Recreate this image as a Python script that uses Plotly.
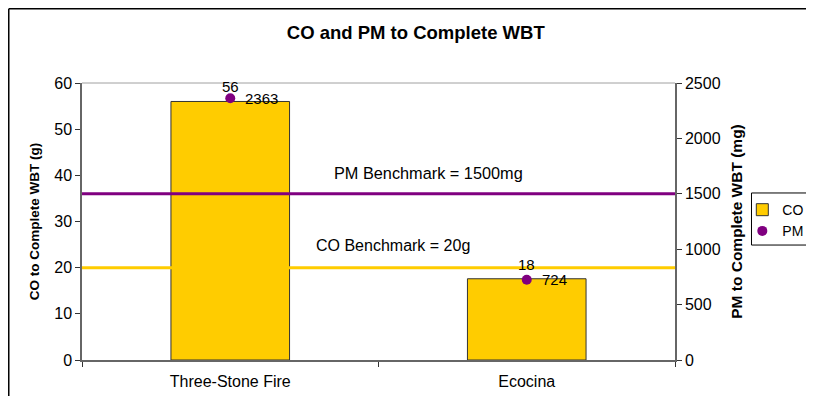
import plotly.graph_objects as go

categories = ["Three-Stone Fire", "Ecocina"]
co_values = [56.0, 17.6]
pm_values = [2363, 724]
co_benchmark = 20
pm_benchmark = 1500
co_label = "CO Benchmark = 20g"
pm_label = "PM Benchmark = 1500mg"

FONT = "Liberation Sans, Arial, sans-serif"

fig = go.Figure()
fig.add_trace(go.Bar(
    x=categories, y=co_values, name="CO",
    marker=dict(color="#FFCC00", line=dict(color="#333333", width=1)),
    width=0.4,
))
fig.add_trace(go.Scatter(
    x=categories, y=pm_values, name="PM", yaxis="y2",
    mode="markers",
    marker=dict(color="#800080", size=10),
    cliponaxis=False,
))

# bar value labels
for c, v in zip(categories, co_values):
    fig.add_annotation(x=c, y=v, xref="x", yref="y", text=f"{v:.0f}", showarrow=False,
                       yanchor="bottom", yshift=4, font=dict(family=FONT, size=15, color="black"))
# PM value labels
for c, v in zip(categories, pm_values):
    fig.add_annotation(x=c, y=v, xref="x", yref="y2", text=str(v), showarrow=False,
                       xanchor="left", yanchor="middle", xshift=13,
                       font=dict(family=FONT, size=15, color="black"))

# benchmark lines
fig.add_shape(type="line", xref="paper", x0=0, x1=1, yref="y", y0=co_benchmark, y1=co_benchmark,
              line=dict(color="#FFCC00", width=3))
fig.add_shape(type="line", xref="paper", x0=0, x1=1, yref="y2", y0=pm_benchmark, y1=pm_benchmark,
              line=dict(color="#800080", width=3))
# top border of plot area
fig.add_shape(type="line", xref="paper", yref="paper", x0=0, x1=1, y0=1, y1=1,
              line=dict(color="#A0A0A0", width=1))
# outer chart frame (left and top edges; the rest lies outside the picture)
fig.add_shape(type="line", xref="paper", yref="paper", x0=-0.1235, x1=-0.1235, y0=-0.3, y1=1.268,
              line=dict(color="black", width=1.5), layer="below")
fig.add_shape(type="line", xref="paper", yref="paper", x0=-0.1235, x1=1.3, y0=1.268, y1=1.268,
              line=dict(color="black", width=1.5), layer="below")
# legend box (left, top, bottom edges)
fig.add_shape(type="path", xref="paper", yref="paper",
              path="M 1.4,0.603 L 1.129,0.603 L 1.129,0.415 L 1.4,0.415",
              line=dict(color="black", width=1), fillcolor="rgba(0,0,0,0)", layer="below")

fig.add_annotation(xref="paper", yref="y2", x=0.585, y=pm_benchmark, text=pm_label,
                   showarrow=False, yanchor="bottom", yshift=10,
                   font=dict(family=FONT, size=16.3, color="black"))
fig.add_annotation(xref="paper", yref="y", x=0.524, y=co_benchmark, text=co_label,
                   showarrow=False, yanchor="bottom", yshift=12,
                   font=dict(family=FONT, size=16, color="black"))

fig.update_layout(
    width=798, height=388,
    margin=dict(l=74, r=131, t=75, b=36, autoexpand=False),
    paper_bgcolor="white", plot_bgcolor="white",
    title=dict(text="<b>CO and PM to Complete WBT</b>", x=0.511, xanchor="center", y=1 - 25 / 388, yanchor="middle",
               font=dict(family=FONT, size=18.5, color="black")),
    font=dict(family=FONT, size=15, color="black"),
    showlegend=True,
    legend=dict(x=1.1135, xanchor="left", y=0.599, yanchor="top",
                bgcolor="rgba(0,0,0,0)", borderwidth=0,
                font=dict(family=FONT, size=14, color="black"),
                itemwidth=30),
    xaxis=dict(type="category", range=[-0.5, 1.5], showline=True, linecolor="#666666", linewidth=1.5,
               tickson="boundaries", ticks="outside", ticklen=5, tickcolor="#333333", automargin=False,
               ticklabelstandoff=6,
               tickfont=dict(family=FONT, size=16, color="black"), showgrid=False),
    yaxis=dict(range=[0, 60], dtick=10, showline=True, linecolor="#666666", linewidth=1.5, automargin=False,
               ticks="outside", ticklen=5, tickcolor="#333333", showgrid=False, zeroline=False,
               title=dict(text="<b>CO to Complete WBT (g)</b>", font=dict(family=FONT, size=13.5), standoff=12),
               tickfont=dict(family=FONT, size=16, color="black")),
    yaxis2=dict(range=[0, 2500], dtick=500, overlaying="y", side="right", showline=True, automargin=False,
                linecolor="#666666", linewidth=1.5, ticks="outside", ticklen=5, tickcolor="#333333",
                showgrid=False, zeroline=False,
                title=dict(text="<b>PM to Complete WBT (mg)</b>", font=dict(family=FONT, size=15.5), standoff=12),
                tickfont=dict(family=FONT, size=16, color="black")),
)

fig.write_html("out.html")
